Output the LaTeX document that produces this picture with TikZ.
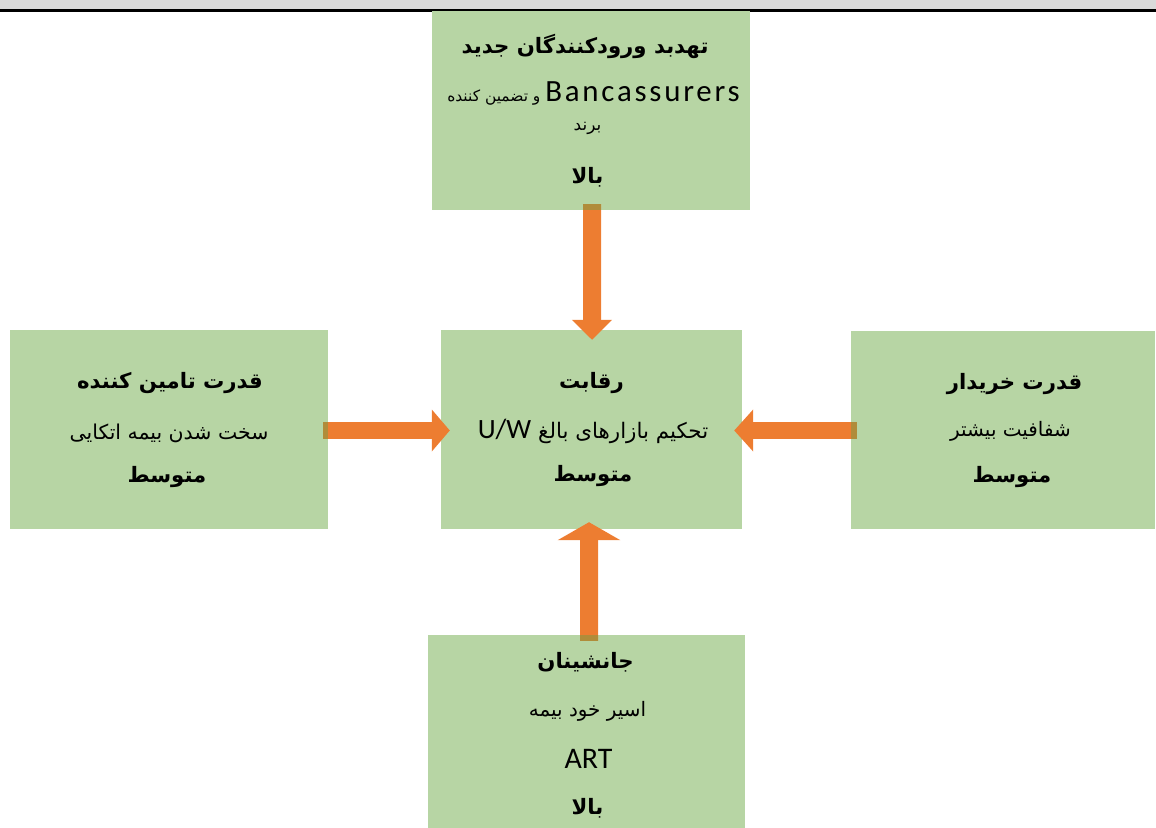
\documentclass[tikz,border=0pt]{standalone}
\usepackage{fontspec}
\setmainfont{Carlito}
\newfontfamily\fa[Script=Arabic]{DejaVu Sans}
\TeXXeTstate=1
\usetikzlibrary{arrows.meta,calc}

\definecolor{boxgreen}{RGB}{183,213,164}
\definecolor{arroworange}{RGB}{237,125,49}
\definecolor{overlapolive}{RGB}{176,140,58}
\definecolor{bandgray}{RGB}{218,218,218}

\newcommand{\fasize}[1]{\fontsize{#1}{#1}\selectfont}
\tikzset{
  panel/.style={fill=boxgreen, draw=none, inner sep=0pt},
  title/.style={anchor=base, inner sep=0pt, font=\fa\bfseries\fasize{21.3}},
  sub/.style={anchor=base, inner sep=0pt, font=\fa\fasize{20}},
  small/.style={anchor=base, inner sep=0pt, font=\fa\fasize{15.5}},
  latin/.style={anchor=base, inner sep=0pt, font=\rmfamily\fasize{30}},
  force/.style={draw=arroworange, line width=18bp, line cap=butt},
  overlap/.style={fill=overlapolive, draw=none},
}
\newcommand{\lat}[1]{{\rmfamily\fasize{28}#1}}
\newcommand{\latwide}[1]{{\rmfamily\fasize{31}\addfontfeature{LetterSpace=9}#1}}

\begin{document}
\begin{tikzpicture}[x=1bp, y=-1bp]
  \useasboundingbox (0,0) rectangle (1156,828);
  % header band and rule
  \fill[bandgray] (0,0) rectangle (1156,9);
  \fill[black] (0,9) rectangle (1156,11.5);

  % the five panels
  \node[panel, minimum width=318bp, minimum height=199bp] (entrants) at (591,110.5) {};
  \node[panel, minimum width=318bp, minimum height=199bp] (suppliers) at (169,429.5) {};
  \node[panel, minimum width=301bp, minimum height=199bp] (rivalry) at (591.5,429.5) {};
  \node[panel, minimum width=304bp, minimum height=198bp] (buyers) at (1003,430) {};
  \node[panel, minimum width=317bp, minimum height=193bp] (substitutes) at (586.5,731.5) {};

  % block arrows into the centre panel
  \draw[force, -{Triangle[width=39bp,length=20bp]}]
    ($(entrants.south)+(1,-6)$) -- ($(rivalry.north)+(0.5,10)$);
  \fill[overlap] ($(entrants.south)+(-8,-6)$) rectangle ($(entrants.south)+(10,0)$);

  \draw[force, line width=17bp, -{Triangle[width=41bp,length=18bp]}]
    ($(suppliers.east)+(-5,1)$) -- ($(rivalry.west)+(9,1)$);
  \fill[overlap] ($(suppliers.east)+(-5,-7.5)$) rectangle ($(suppliers.east)+(0,9.5)$);

  \draw[force, line width=17bp, -{Triangle[width=41bp,length=19bp]}]
    ($(buyers.west)+(6,0.5)$) -- ($(rivalry.east)+(-8,1)$);
  \fill[overlap] ($(buyers.west)+(0,-8)$) rectangle ($(buyers.west)+(6,9)$);

  \draw[force, -{Triangle[width=62bp,length=18bp]}]
    ($(substitutes.north)+(2.5,6)$) -- ($(rivalry.south)+(-2.5,-7)$);
  \fill[overlap] ($(substitutes.north)+(-6.5,0)$) rectangle ($(substitutes.north)+(11.5,6)$);

  % threat of new entrants
  \node[title] (entT) at (585,53) {\beginR تهدبد ورودکنندگان جدید\endR};
  \node[small] (entS) at (593.5,101) {\beginR\beginL\latwide{Bancassurers}\endL{} و تضمین کننده\endR};
  \node[small, font=\fa\fasize{17}] (entS2) at (587.5,130) {\beginR برند\endR};
  \node[title] (entL) at (587.5,183) {\beginR بالا\endR};

  % rivalry
  \node[title] (rivT) at (591.5,388) {\beginR رقابت\endR};
  \node[sub, font=\fa\fasize{21.5}] (rivS) at (593,438) {\beginR تحکیم بازارهای بالغ \beginL\lat{U/W}\endL\endR};
  \node[title] (rivL) at (593,481) {\beginR متوسط\endR};

  % supplier power
  \node[title] (supT) at (170,388) {\beginR قدرت تامین کننده\endR};
  \node[sub, font=\fa\fasize{20.5}] (supS) at (169,439) {\beginR سخت شدن بیمه اتکایی\endR};
  \node[title] (supL) at (167,482) {\beginR متوسط\endR};

  % buyer power
  \node[title] (buyT) at (1014.5,389) {\beginR قدرت خریدار\endR};
  \node[sub] (buyS) at (1010.5,436) {\beginR شفافیت بیشتر\endR};
  \node[title] (buyL) at (1012,482) {\beginR متوسط\endR};

  % substitutes
  \node[title] (subT) at (585.5,668) {\beginR جانشینان\endR};
  \node[sub] (subS) at (587.5,716) {\beginR اسیر خود بیمه\endR};
  \node[latin] (subA) at (588.5,768) {ART};
  \node[title] (subL) at (587.5,814) {\beginR بالا\endR};
\end{tikzpicture}
\end{document}
